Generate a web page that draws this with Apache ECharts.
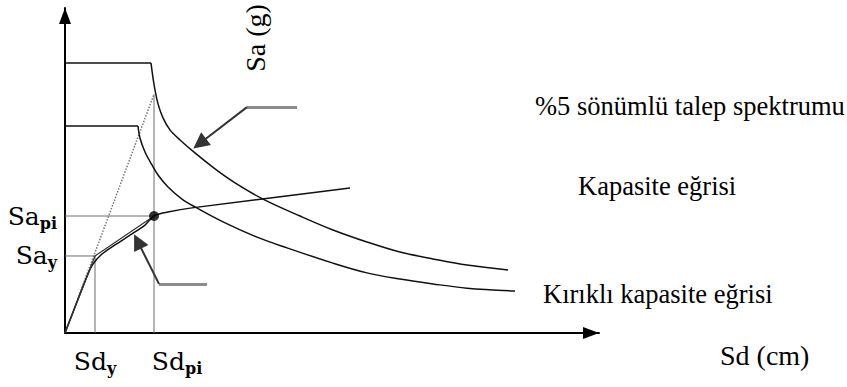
<!DOCTYPE html>
<html>
<head>
<meta charset="utf-8">
<style>
  html, body { margin: 0; padding: 0; background: #fff; }
  #chart { width: 847px; height: 387px; }
</style>
<script src="https://cdn.jsdelivr.net/npm/echarts@6/dist/echarts.min.js"></script>
</head>
<body>
<div id="chart"></div>
<script>
// Capacity spectrum method sketch: Sd (cm) vs Sa (g)

// 5% damped demand spectrum (elastic), plateau + descending branch
const demandPlateau = [[0, 0.831], [16.10, 0.831]];
const demandCurve = [
  [16.10, 0.831], [16.48, 0.785], [16.85, 0.748], [17.42, 0.705], [18.35, 0.662],
  [19.66, 0.625], [21.54, 0.594], [24.34, 0.554], [28.09, 0.505], [31.84, 0.462],
  [37.08, 0.412], [44.01, 0.360], [50.19, 0.317], [56.55, 0.280], [62.73, 0.249],
  [68.91, 0.228], [75.28, 0.209], [82.96, 0.194]
];

// reduced demand spectrum
const reducedPlateau = [[0, 0.637], [13.67, 0.637]];
const reducedCurve = [
  [13.67, 0.637], [14.04, 0.600], [14.98, 0.557], [16.29, 0.517], [17.42, 0.486],
  [19.29, 0.449], [21.91, 0.412], [24.34, 0.388], [29.59, 0.342], [35.96, 0.295],
  [41.57, 0.262], [50.19, 0.215], [56.55, 0.185], [62.73, 0.166], [68.91, 0.151],
  [75.28, 0.138], [84.27, 0.129]
];

// capacity curve (pushover in ADRS format)
const capacityCurve = [
  [0, 0], [4.31, 0.182], [5.24, 0.212], [6.93, 0.243], [9.36, 0.271],
  [12.55, 0.305], [14.98, 0.332], [16.67, 0.360], [19.29, 0.372], [23.78, 0.385],
  [53.37, 0.446]
];

// key points of the bilinear representation
const Sdy = 5.62, Say = 0.237;
const Sdpi = 16.67, Sapi = 0.360;
const SaElastic = 0.735;   // initial stiffness line meets the demand spectrum

const bilinear = [[0, 0], [Sdy, Say], [Sdpi, Sapi]];

// callout leaders: [tail, elbow, head]
const leaderSpectrum = [[43.45, 0.695], [34.08, 0.695], [25.22, 0.583]];
const leaderBilinear = [[26.59, 0.151], [17.60, 0.151], [13.61, 0.282]];

const textFont = '"Liberation Serif", "Times New Roman", serif';
const symFont = '"DejaVu Serif", serif';
const ink = '#111';
const guide = '#6e6e6e';

const subRich = {
  m: { fontFamily: symFont, fontSize: 25, color: '#000', lineHeight: 30 },
  s: { fontFamily: symFont, fontSize: 16, fontWeight: 'bold', color: '#000', lineHeight: 18, verticalAlign: 'bottom' },
  gap: { width: 46 }
};

const chart = echarts.init(document.getElementById('chart'), null, { renderer: 'svg' });

function plain(name, data, opts) {
  return Object.assign({
    name: name, type: 'line', data: data, showSymbol: false, silent: true,
    lineStyle: { color: ink, width: 1.5 }, z: 3
  }, opts || {});
}

function leader(head, color, width, withArrow) {
  return {
    type: 'lines', coordinateSystem: 'cartesian2d', polyline: false, silent: true,
    symbol: withArrow ? ['none', 'triangle'] : ['none', 'none'],
    symbolSize: [12, 16],
    lineStyle: { color: color, width: width, opacity: 1 },
    itemStyle: { color: '#000' },
    data: [{ coords: head }], z: 4
  };
}

chart.setOption({
  animation: false,
  grid: { left: 65, right: 248, top: 8, bottom: 54, containLabel: false },
  xAxis: {
    type: 'value', min: 0, max: 100,
    axisLine: {
      show: true, onZero: false, symbol: ['none', 'triangle'], symbolSize: [12, 16], symbolOffset: [0, -8],
      lineStyle: { color: '#000', width: 2 }
    },
    axisTick: { show: false },
    splitLine: { show: false },
    axisLabel: {
      customValues: [Sdy, Sdpi], margin: 13,
      formatter: v => v === Sdy ? '{m|Sd}{s|y}' : '{gap|}{m|Sd}{s|pi}',
      rich: subRich
    }
  },
  yAxis: {
    type: 'value', min: 0, max: 1,
    axisLine: {
      show: true, onZero: false, symbol: ['none', 'triangle'], symbolSize: [12, 16], symbolOffset: [0, -8],
      lineStyle: { color: '#000', width: 2 }
    },
    axisTick: { show: false },
    splitLine: { show: false },
    axisLabel: {
      customValues: [Say, Sapi], margin: 8,
      formatter: v => v === Say ? '{m|Sa}{s|y}' : '{m|Sa}{s|pi}',
      rich: subRich
    }
  },
  series: [
    // guide lines
    plain('Sdy', [[Sdy, 0], [Sdy, Say]], { lineStyle: { color: guide, width: 1 }, z: 2 }),
    plain('Say', [[0, Say], [Sdy, Say]], { lineStyle: { color: guide, width: 1 }, z: 2 }),
    plain('Sdpi', [[Sdpi, 0], [Sdpi, SaElastic]], { lineStyle: { color: guide, width: 1 }, z: 2 }),
    plain('Sapi', [[0, Sapi], [Sdpi, Sapi]], { lineStyle: { color: guide, width: 1 }, z: 2 }),
    plain('initial stiffness', [[0, 0], [Sdpi, SaElastic]], { lineStyle: { color: '#777', width: 1.5, type: 'dotted' }, z: 2 }),
    // spectra
    plain('demand plateau', demandPlateau),
    plain('demand', demandCurve, { smooth: 0.35 }),
    plain('reduced plateau', reducedPlateau),
    plain('reduced', reducedCurve, { smooth: 0.35 }),
    // capacity
    plain('capacity', capacityCurve, { smooth: 0.3 }),
    plain('bilinear', bilinear, { lineStyle: { color: '#333', width: 1.2 } }),
    {
      name: 'performance point', type: 'scatter', silent: true, symbolSize: 10,
      itemStyle: { color: '#000' }, data: [[Sdpi, Sapi]], z: 5
    },
    // callout leaders
    leader([leaderSpectrum[0], leaderSpectrum[1]], '#8c8c8c', 3, false),
    leader([leaderSpectrum[1], leaderSpectrum[2]], '#333', 2, true),
    leader([leaderBilinear[0], leaderBilinear[1]], '#8c8c8c', 3, false),
    leader([leaderBilinear[1], leaderBilinear[2]], '#333', 2, true)
  ],
  graphic: [
    { type: 'text', x: 255, y: 38, rotation: Math.PI / 2, silent: true,
      style: { text: 'Sa (g)', fontFamily: textFont, fontSize: 28, fill: '#000', align: 'center', verticalAlign: 'middle' } },
    { type: 'text', x: 535, y: 106, silent: true,
      style: { text: '%5 sönümlü talep spektrumu', fontFamily: textFont, fontSize: 26.5, fill: '#000', verticalAlign: 'middle' } },
    { type: 'text', x: 578, y: 186, silent: true,
      style: { text: 'Kapasite eğrisi', fontFamily: textFont, fontSize: 26.5, fill: '#000', verticalAlign: 'middle' } },
    { type: 'text', x: 543, y: 294, silent: true,
      style: { text: 'Kırıklı kapasite eğrisi', fontFamily: textFont, fontSize: 26.5, fill: '#000', verticalAlign: 'middle' } },
    { type: 'text', x: 720, y: 355, silent: true,
      style: { text: 'Sd (cm)', fontFamily: textFont, fontSize: 28, fill: '#000', verticalAlign: 'middle' } }
  ]
});
</script>
</body>
</html>
